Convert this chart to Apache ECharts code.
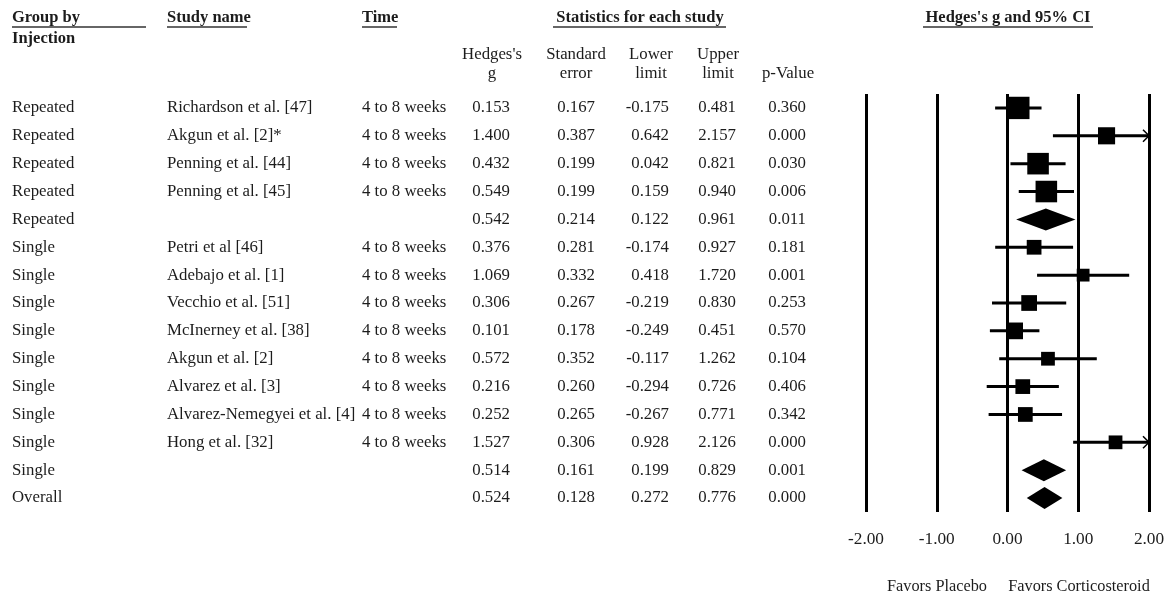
<!DOCTYPE html>
<html>
<head>
<meta charset="utf-8">
<title>Hedges's g forest plot</title>
<script src="https://cdn.jsdelivr.net/npm/echarts@6/dist/echarts.min.js"></script>
<style>
  html, body { margin: 0; padding: 0; background: #fff; }
  #chart { width: 1169px; height: 597px; }
</style>
</head>
<body>
<div id="chart"></div>
<script>
'use strict';

// table columns, one entry per row (top to bottom)
var groups = ['Repeated', 'Repeated', 'Repeated', 'Repeated', 'Repeated',
  'Single', 'Single', 'Single', 'Single', 'Single', 'Single', 'Single', 'Single', 'Single', 'Overall'];
var studies = ['Richardson et al. [47]', 'Akgun et al. [2]*', 'Penning et al. [44]', 'Penning et al. [45]', '',
  'Petri et al [46]', 'Adebajo et al. [1]', 'Vecchio et al. [51]', 'McInerney et al. [38]', 'Akgun et al. [2]',
  'Alvarez et al. [3]', 'Alvarez-Nemegyei et al. [4]', 'Hong et al. [32]', '', ''];
var times = ['4 to 8 weeks', '4 to 8 weeks', '4 to 8 weeks', '4 to 8 weeks', '',
  '4 to 8 weeks', '4 to 8 weeks', '4 to 8 weeks', '4 to 8 weeks', '4 to 8 weeks',
  '4 to 8 weeks', '4 to 8 weeks', '4 to 8 weeks', '', ''];
var hedgesG = [0.153, 1.400, 0.432, 0.549, 0.542, 0.376, 1.069, 0.306, 0.101, 0.572, 0.216, 0.252, 1.527, 0.514, 0.524];
var stdErr = [0.167, 0.387, 0.199, 0.199, 0.214, 0.281, 0.332, 0.267, 0.178, 0.352, 0.260, 0.265, 0.306, 0.161, 0.128];
var lowerLimit = [-0.175, 0.642, 0.042, 0.159, 0.122, -0.174, 0.418, -0.219, -0.249, -0.117, -0.294, -0.267, 0.928, 0.199, 0.272];
var upperLimit = [0.481, 2.157, 0.821, 0.940, 0.961, 0.927, 1.720, 0.830, 0.451, 1.262, 0.726, 0.771, 2.126, 0.829, 0.776];
var pValue = [0.360, 0.000, 0.030, 0.006, 0.011, 0.181, 0.001, 0.253, 0.570, 0.104, 0.406, 0.342, 0.000, 0.001, 0.000];
// relative weight (%) inside the subgroup, 0 marks a summary row (diamond)
var relWeight = [29, 17, 27, 27, 0, 12.6, 9.5, 14.4, 16.2, 11, 12.6, 12.6, 11, 0, 0];
var xTicks = [-2, -1, 0, 1, 2];

var FONT = 'Liberation Serif';
var INK = '#1c1c1c';
var GRID_LEFT = 866;
var FS = 16.8;

function fmt3(v) { return v.toFixed(3); }

// one hidden category axis per table column
function column(data, x, align) {
  return {
    type: 'category',
    position: 'left',
    offset: GRID_LEFT - x,
    inverse: true,
    data: data,
    axisLine: { show: false },
    axisTick: { show: false },
    splitLine: { show: false },
    axisLabel: {
      interval: 0, margin: 0, align: align,
      fontFamily: FONT, fontSize: FS, color: INK
    }
  };
}

function txt(str, x, y, opts) {
  opts = opts || {};
  return {
    type: 'text', x: x, y: y, silent: true,
    style: {
      text: str, fill: INK,
      font: (opts.bold ? 'bold ' : '') + (opts.size || FS) + 'px "' + FONT + '"',
      align: opts.align || 'left', verticalAlign: 'middle'
    }
  };
}
function underline(x1, x2, y) {
  return { type: 'line', silent: true, shape: { x1: x1, y1: y, x2: x2, y2: y }, style: { stroke: '#333', lineWidth: 1.5 } };
}

var plotData = hedgesG.map(function (g, i) {
  return [i, g, lowerLimit[i], upperLimit[i], relWeight[i]];
});

function renderItem(params, api) {
  var row = api.value(0), g = api.value(1), lo = api.value(2), hi = api.value(3), w = api.value(4);
  var xMax = xTicks[xTicks.length - 1];
  var c = api.coord([g, row]);
  var a = api.coord([lo, row]);
  var b = api.coord([Math.min(hi, xMax), row]);
  if (!w) {
    var h = 11;
    return {
      type: 'polygon',
      shape: { points: [[a[0], c[1]], [c[0], c[1] - h], [b[0], c[1]], [c[0], c[1] + h]] },
      style: { fill: '#000' }
    };
  }
  var s = 4.15 * Math.sqrt(w);
  var kids = [
    { type: 'line', shape: { x1: a[0], y1: c[1], x2: b[0], y2: c[1] }, style: { stroke: '#000', lineWidth: 3 } },
    { type: 'rect', shape: { x: c[0] - s / 2, y: c[1] - s / 2, width: s, height: s }, style: { fill: '#000' } }
  ];
  if (hi > xMax) {
    kids.push({
      type: 'polyline',
      shape: { points: [[b[0] - 6, c[1] - 6], [b[0], c[1]], [b[0] - 6, c[1] + 6]] },
      style: { stroke: '#000', lineWidth: 1.5, fill: null }
    });
  }
  return { type: 'group', children: kids };
}

var chart = echarts.init(document.getElementById('chart'));
chart.setOption({
  animation: false,
  backgroundColor: '#fff',
  grid: { left: GRID_LEFT, right: 20, top: 94, bottom: 85, outerBoundsMode: 'none' },
  xAxis: {
    type: 'value',
    min: xTicks[0], max: xTicks[xTicks.length - 1], interval: 1,
    axisLine: { show: false },
    axisTick: { show: false },
    splitLine: { show: true, lineStyle: { color: '#000', width: 3 } },
    axisLabel: {
      margin: 19, fontFamily: FONT, fontSize: 17.3, color: INK,
      formatter: function (v) { return v.toFixed(2); }
    }
  },
  yAxis: [
    column(groups, 12, 'left'),
    column(studies, 167, 'left'),
    column(times, 362, 'left'),
    column(hedgesG.map(fmt3), 510, 'right'),
    column(stdErr.map(fmt3), 595, 'right'),
    column(lowerLimit.map(fmt3), 669, 'right'),
    column(upperLimit.map(fmt3), 736, 'right'),
    column(pValue.map(fmt3), 806, 'right')
  ],
  series: [{
    type: 'custom',
    renderItem: renderItem,
    data: plotData,
    encode: { x: [1, 2, 3], y: 0 },
    yAxisIndex: 0
  }],
  graphic: [
    txt('Group by', 12, 18, { bold: true, size: 16.5 }), underline(12, 146, 27),
    txt('Injection', 12, 39, { bold: true, size: 16.5 }),
    txt('Study name', 167, 18, { bold: true, size: 16.5 }), underline(167, 247, 27),
    txt('Time', 362, 18, { bold: true, size: 16.5 }), underline(362, 397, 27),
    txt('Statistics for each study', 640, 18, { bold: true, size: 16.5, align: 'center' }), underline(553, 726, 27),
    txt("Hedges's g and 95% CI", 1008, 18, { bold: true, size: 16.5, align: 'center' }), underline(923, 1093, 27),
    txt("Hedges's", 492, 55, { align: 'center' }), txt('g', 492, 74, { align: 'center' }),
    txt('Standard', 576, 55, { align: 'center' }), txt('error', 576, 74, { align: 'center' }),
    txt('Lower', 651, 55, { align: 'center' }), txt('limit', 651, 74, { align: 'center' }),
    txt('Upper', 718, 55, { align: 'center' }), txt('limit', 718, 74, { align: 'center' }),
    txt('p-Value', 788, 74, { align: 'center' }),
    txt('Favors Placebo', 937, 587, { align: 'center', size: 16.3 }),
    txt('Favors Corticosteroid', 1079, 587, { align: 'center', size: 16.3 })
  ]
});
</script>
</body>
</html>
